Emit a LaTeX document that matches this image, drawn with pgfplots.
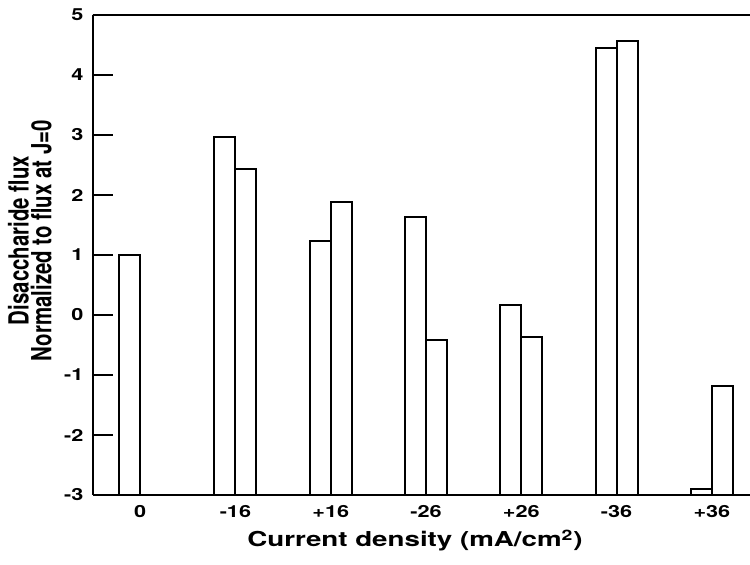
\documentclass[border=0pt]{standalone}
\usepackage{fontspec}
\setmainfont{TeX Gyre Heros}
\usepackage{pgfplots}
\pgfplotsset{compat=1.18}
\begin{document}
\begin{tikzpicture}
\begin{axis}[
  name=ax,
  scale only axis,
  width=493.125pt, height=360pt,
  xmin=-0.5, xmax=6.4,
  ymin=0, ymax=8,
  y filter/.expression={y+3},
  axis x line*=box, axis y line*=left,
  axis line style={line width=1.5pt, -},
  ytick={0,1,2,3,4,5,6,7,8},
  yticklabels={-3,-2,-1,0,1,2,3,4,5},
  xtick={0,1,2,3,4,5,6},
  xticklabels={0,-16,+16,-26,+26,-36,+36},
  xtick style={draw=none},
  ytick style={line width=1.5pt, black},
  ytick align=inside,
  xtick align=inside,
  major tick length=15pt,
  /pgf/number format/assume math mode=true,
  yticklabel style={font=\fontsize{12.5}{14}\selectfont\bfseries, xscale=1.3, inner sep=0pt, xshift=-5pt},
  xticklabel style={font=\fontsize{12.5}{14}\selectfont\bfseries, xscale=1.3, anchor=base, yshift=-16.5pt, inner sep=0pt},
  every axis y label/.style={at={(rel axis cs:-0.0616,0.53)}, anchor=south, rotate=90, yscale=1.36, align=center, inner sep=0pt, font=\fontsize{15.3}{11.2}\selectfont\bfseries},
  every axis x label/.style={at={(rel axis cs:0.4905,-0.1083)}, anchor=base, xscale=1.35, inner sep=0pt, font=\fontsize{15.4}{18}\selectfont\bfseries},
  ylabel={Disaccharide flux\\Normalized to flux at J=0},
  xlabel={Current density (mA/cm\textsuperscript{2})},
]
\addplot[ybar, bar width=0.22, bar shift=-0.11, fill=white, draw=black, line width=1.5pt]
  coordinates {(0,1.00) (1,2.97) (2,1.23) (3,1.64) (4,0.16) (5,4.45) (6,-2.90)};
\addplot[ybar, bar width=0.22, bar shift=0.11, fill=white, draw=black, line width=1.5pt]
  coordinates {(1,2.43) (2,1.88) (3,-0.41) (4,-0.36) (5,4.57) (6,-1.18)};
\end{axis}
\pgfresetboundingbox
\path[use as bounding box] ([shift={(-69.375pt,-52.5pt)}]ax.south west) rectangle ([shift={(0pt,11.25pt)}]ax.north east);
\end{tikzpicture}
\end{document}
